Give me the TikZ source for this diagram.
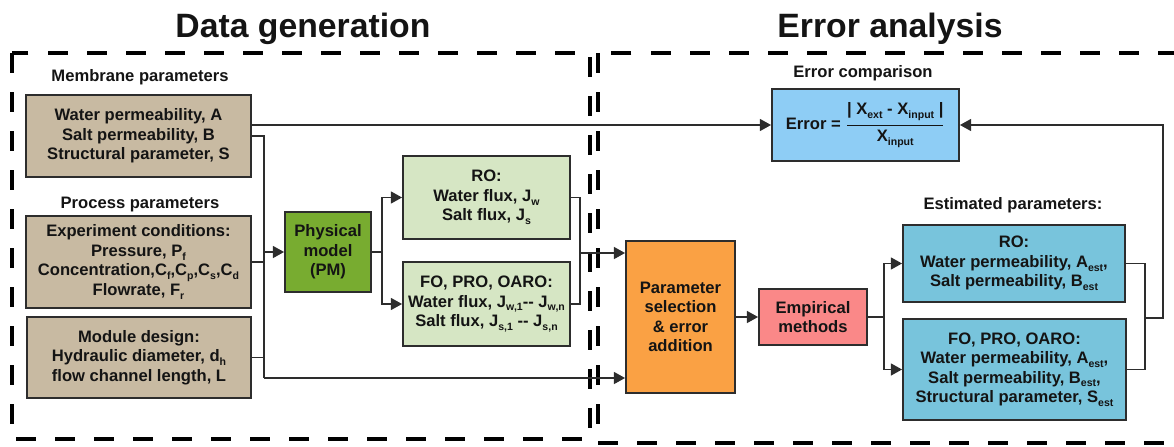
\documentclass[tikz,border=0pt]{standalone}
\usepackage{fontspec}
\setmainfont{Liberation Sans}
\usepackage{amsmath}
\usetikzlibrary{arrows.meta, positioning}
\definecolor{ink}{RGB}{20, 20, 20}
\definecolor{edge}{RGB}{45, 45, 45}
\definecolor{membrane}{RGB}{200, 186, 162}
\definecolor{pmgreen}{RGB}{120, 172, 48}
\definecolor{fluxgreen}{RGB}{214, 230, 196}
\definecolor{selorange}{RGB}{250, 161, 68}
\definecolor{emppink}{RGB}{250, 136, 136}
\definecolor{errblue}{RGB}{142, 205, 245}
\definecolor{estblue}{RGB}{120, 196, 220}
\newcommand{\lowsub}[1]{\raisebox{-0.45ex}{\fontsize{7.5}{8}\selectfont #1}}

\begin{document}
\begin{tikzpicture}[x=0.025cm, y=-0.025cm,
  every node/.style={font=\fontsize{11.8}{13.85}\selectfont\bfseries, text=ink},
  box/.style={draw=edge, line width=1.3pt, align=center, inner sep=2pt},
  frame/.style={line width=2.3pt, dash pattern=on 0.5cm off 0.475cm},
  lbl/.style={align=center},
  title/.style={font=\fontsize{24}{28}\selectfont\bfseries, anchor=base},
  ar/.style={-{Triangle[length=2.8mm, width=3mm]}, line width=1.1pt, draw=edge},
  ln/.style={line width=1.1pt, draw=edge}
]
\useasboundingbox (0,0) rectangle (1174,446);
\draw[frame] (12,53) rectangle (590,439);
\draw[frame] (598,53) rectangle (1200,443);
\node[title] (tdata) at (303,38) {Data generation};
\node[title] (terr) at (890,38) {Error analysis};

\node[lbl] (lmem) at (140,77) {Membrane parameters};
\node[lbl] (lproc) at (140,205) {Process parameters};
\node[lbl] (lerr) at (863,73) {Error comparison};
\node[lbl] (lest) at (1013,205) {Estimated parameters:};

\node[box, fill=membrane, minimum width=5.625cm, minimum height=2.05cm] (mem) at (138.5,136)
  {Water permeability, A\\Salt permeability, B\\Structural parameter, S};
\node[box, fill=membrane, minimum width=5.625cm, minimum height=2.3cm] (expc) at (138.5,262)
  {Experiment conditions:\\Pressure, P\lowsub{f}\\
   Concentration,C\lowsub{f},C\lowsub{p},C\lowsub{s},C\lowsub{d}\\
   Flowrate, F\lowsub{r}};
\node[box, fill=membrane, minimum width=5.6cm, minimum height=2.025cm] (mod) at (139,357.5)
  {Module design:\\Hydraulic diameter, d\lowsub{h}\\flow channel length, L};
\node[box, fill=pmgreen, minimum width=2.15cm, minimum height=2cm] (pm) at (328,252)
  {Physical\\model\\(PM)};
\node[box, fill=fluxgreen, minimum width=4.175cm, minimum height=2.075cm] (fluxro) at (486.5,197.5)
  {RO:\\Water flux, J\lowsub{w}\\Salt flux, J\lowsub{s}};
\node[box, fill=fluxgreen, minimum width=4.175cm, minimum height=2.1cm] (fluxfo) at (486.5,304)
  {FO, PRO, OARO:\\Water flux, J\lowsub{w,1}-{}- J\lowsub{w,n}\\
   Salt flux, J\lowsub{s,1} -{}- J\lowsub{s,n}};
\node[box, fill=selorange, minimum width=2.725cm, minimum height=3.8cm] (psel) at (680.5,317)
  {Parameter\\selection\\\& error\\addition};
\node[box, fill=emppink, minimum width=2.7cm, minimum height=1.4cm] (emp) at (813,317)
  {Empirical\\methods};
\node[box, fill=estblue, minimum width=5.55cm, minimum height=1.925cm] (estro) at (1014,263.5)
  {RO:\\Water permeability, A\lowsub{est},\\Salt permeability, B\lowsub{est}};
\node[box, fill=estblue, minimum width=5.575cm, minimum height=2.525cm] (estfo) at (1014.5,369.5)
  {FO, PRO, OARO:\\Water permeability, A\lowsub{est},\\Salt permeability, B\lowsub{est},\\
   Structural parameter, S\lowsub{est}};
\node[box, fill=errblue, minimum width=4.675cm, minimum height=1.8cm] (err) at (865.5,125)
  {Error = $\genfrac{}{}{0.9pt}{0}{\text{| X\lowsub{ext} - X\lowsub{input} |}}{\text{X\lowsub{input}}}$};

\coordinate (busB) at (264,378);
\coordinate (fluxjoin) at (580,253);
\coordinate (estjoin) at (1145,318);

\draw[ar] (mem.east |- err.west) -- (err.west);
\draw[ln] (mem.east) -| (busB);
\draw[ln] (expc.east) -- (expc.east -| busB);
\draw[ln] (mod.east) -- (mod.east -| busB);
\draw[ar] (busB |- pm.west) -- (pm.west);
\draw[ar] (busB) -- (psel.west |- busB);
\draw[ln] (pm.east) -- ++(10,0) coordinate (pmsplit);
\draw[ar] (pmsplit) |- (fluxro.west);
\draw[ar] (pmsplit) |- (fluxfo.west);
\draw[ln] (fluxro.east) -| (fluxjoin);
\draw[ln] (fluxfo.east) -| (fluxjoin);
\draw[ar] (fluxjoin) -- (psel.west |- fluxjoin);
\draw[ar] (psel) -- (emp);
\draw[ln] (emp.east) -- ++(16,0) coordinate (empsplit);
\draw[ar] (empsplit) |- (estro.west);
\draw[ar] (empsplit) |- (estfo.west);
\draw[ln] (estro.east) -| (estjoin);
\draw[ln] (estfo.east) -| (estjoin);
\draw[ar] (estjoin) -- ++(18,0) |- (err.east);
\end{tikzpicture}
\end{document}
